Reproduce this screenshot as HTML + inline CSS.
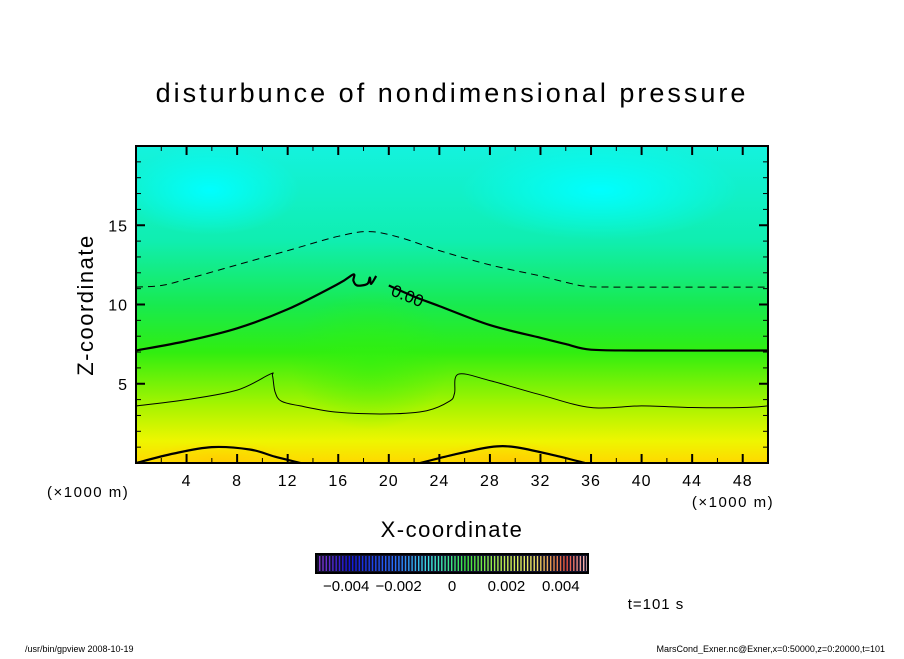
<!DOCTYPE html>
<html><head><meta charset="utf-8"><style>
body{margin:0;background:#fff;width:904px;height:654px;overflow:hidden;font-family:"Liberation Sans",sans-serif}
svg text{font-family:"Liberation Sans",sans-serif}
</style></head><body>
<svg id="s" width="904" height="654" xmlns="http://www.w3.org/2000/svg">
<defs>
<clipPath id="pc"><rect x="136" y="146" width="632" height="317"/></clipPath>
<linearGradient id="vg" x1="0" y1="0" x2="0" y2="1">
<stop offset="0" stop-color="#14f2de"/>
<stop offset="0.3" stop-color="#10eeb0"/>
<stop offset="0.5" stop-color="#18ea50"/>
<stop offset="0.65" stop-color="#30ee10"/>
<stop offset="0.82" stop-color="#a8f400"/>
<stop offset="0.93" stop-color="#eef600"/>
<stop offset="1" stop-color="#ffd800"/>
</linearGradient>
<radialGradient id="cy"><stop offset="0" stop-color="#00ffff"/><stop offset="1" stop-color="#00ffff" stop-opacity="0"/></radialGradient>
<radialGradient id="gr"><stop offset="0" stop-color="#30f010"/><stop offset="1" stop-color="#30f010" stop-opacity="0"/></radialGradient>
<radialGradient id="yl"><stop offset="0" stop-color="#ffcc00"/><stop offset="1" stop-color="#ffd800" stop-opacity="0"/></radialGradient>
</defs>
<text x="452" y="102" text-anchor="middle" font-size="27" letter-spacing="3">disturbunce of nondimensional pressure</text>
<g id="plot" clip-path="url(#pc)">
<rect x="136" y="146" width="632" height="317" fill="url(#vg)"/>
<ellipse cx="210" cy="190" rx="90" ry="45" fill="url(#cy)"/>
<ellipse cx="600" cy="190" rx="140" ry="50" fill="url(#cy)"/>
<ellipse cx="370" cy="360" rx="80" ry="70" fill="url(#gr)" opacity="0.6"/>
<ellipse cx="220" cy="463" rx="80" ry="22" fill="url(#yl)"/>
<ellipse cx="505" cy="463" rx="80" ry="22" fill="url(#yl)"/>
</g>
<g id="contours" clip-path="url(#pc)"></g>
<text x="390" y="295" font-size="17" transform="rotate(22 390 295)">0.00</text>
<rect x="136" y="146" width="632" height="317" fill="none" stroke="#000" stroke-width="2"/>
<g id="ticks"></g>
<text x="47" y="497" font-size="15" letter-spacing="1.5">(×1000 m)</text>
<text x="733" y="507" text-anchor="middle" font-size="15" letter-spacing="1.5">(×1000 m)</text>
<text x="452" y="537" text-anchor="middle" font-size="22" letter-spacing="1.5">X-coordinate</text>
<text x="93" y="305" text-anchor="middle" font-size="22" letter-spacing="1.5" transform="rotate(-90 93 305)">Z-coordinate</text>
<g id="cbar"></g>
<text x="656" y="609" text-anchor="middle" font-size="15" letter-spacing="1">t=101 s</text>
<text x="25" y="652" font-size="9">/usr/bin/gpview   2008-10-19</text>
<text x="885" y="652" text-anchor="end" font-size="9">MarsCond_Exner.nc@Exner,x=0:50000,z=0:20000,t=101</text>
</svg>
<script>
const xTicks=[4,8,12,16,20,24,28,32,36,40,44,48];
const yTicks=[5,10,15];
const dashedX=[0,2,4,8,12,16,18.5,21,24,28,32,34,35.6,38,50];
const dashedZ=[11.1,11.2,11.6,12.5,13.4,14.3,14.6,14.2,13.4,12.5,11.8,11.4,11.15,11.1,11.1];
const zeroLeftX=[0,4,8,12,16,17.2,17.2,17.5,18.3,18.5,18.6,19];
const zeroLeftZ=[7.1,7.7,8.5,9.7,11.3,11.9,11.5,11.2,11.3,11.7,11.3,11.8];
const zeroRightX=[20,22,24,28,32,34,36,40,50];
const zeroRightZ=[11.2,10.5,9.9,8.7,7.9,7.5,7.15,7.1,7.1];
const thinX=[0,4,8,10.6,10.8,11,11.5,13,16,20,23,24.8,25.2,25.5,28,32,36,40,44,48,50];
const thinZ=[3.6,4.0,4.6,5.6,5.5,4.5,3.9,3.6,3.2,3.1,3.3,3.9,4.4,5.6,5.2,4.3,3.5,3.6,3.5,3.5,3.6];
const bump1X=[0,3,6,9,11,13];
const bump1Z=[0,0.6,1.0,0.85,0.4,0];
const bump2X=[22.5,25,28,30,33,35.5];
const bump2Z=[0,0.5,1.0,1.0,0.5,0];
const cbLabels=["-0.004","-0.002","0","0.002","0.004"];
const cbValues=[-0.004,-0.002,0,0.002,0.004];
const NS="http://www.w3.org/2000/svg";
const X0=136,X1=768,Y0=463,Y1=146;
const sx=v=>X0+(v/50)*(X1-X0), sy=v=>Y0-(v/20)*(Y0-Y1);
function mk(t,a,p){const e=document.createElementNS(NS,t);for(const k in a)e.setAttribute(k,a[k]);p.appendChild(e);return e;}
const C=document.getElementById('contours');
function line(xs,zs,w,dash,name){
 const P=xs.map((x,i)=>[sx(x),sy(zs[i])]);
 let d='M'+P[0][0].toFixed(1)+','+P[0][1].toFixed(1);
 for(let i=0;i<P.length-1;i++){const p0=P[Math.max(0,i-1)],p1=P[i],p2=P[i+1],p3=P[Math.min(P.length-1,i+2)];
  const c1=[p1[0]+(p2[0]-p0[0])/6,p1[1]+(p2[1]-p0[1])/6],c2=[p2[0]-(p3[0]-p1[0])/6,p2[1]-(p3[1]-p1[1])/6];
  d+='C'+c1.map(v=>v.toFixed(1))+' '+c2.map(v=>v.toFixed(1))+' '+p2.map(v=>v.toFixed(1));}
 const p=mk('path',{d:d,fill:'none',stroke:'#000','stroke-width':w,'stroke-linejoin':'round'},C);
 if(dash)p.setAttribute('stroke-dasharray',dash);
 
 
}
line(dashedX,dashedZ,1,'7,5','contour-negative');
line(zeroLeftX,zeroLeftZ,2.2,null,'contour-zero-left');
line(zeroRightX,zeroRightZ,2.2,null,'contour-zero-right');
line(thinX,thinZ,1,null,'contour-positive');
line(bump1X,bump1Z,2.2,null,'contour-bump-left');
line(bump2X,bump2Z,2.2,null,'contour-bump-right');
const T=document.getElementById('ticks');
for(let v=2;v<50;v+=2){const maj=v%4==0,L=maj?9:5;
 mk('line',{x1:sx(v),x2:sx(v),y1:Y1,y2:Y1+L,stroke:'#000','stroke-width':maj?2:1},T);
 mk('line',{x1:sx(v),x2:sx(v),y1:Y0,y2:Y0-L,stroke:'#000','stroke-width':maj?2:1},T);}
for(let v=1;v<20;v++){const maj=v%5==0,L=maj?9:5;
 mk('line',{x1:X0,x2:X0+L,y1:sy(v),y2:sy(v),stroke:'#000','stroke-width':maj?2:1},T);
 mk('line',{x1:X1,x2:X1-L,y1:sy(v),y2:sy(v),stroke:'#000','stroke-width':maj?2:1},T);}
xTicks.forEach(v=>{const t=mk('text',{x:sx(v),y:486,'text-anchor':'middle','font-size':16,'letter-spacing':1},T);t.textContent=v;
 
 });
yTicks.forEach(v=>{const t=mk('text',{x:128,y:sy(v)+6,'text-anchor':'end','font-size':16,'letter-spacing':1},T);t.textContent=v;
 
 });
// colorbar
const CB=document.getElementById('cbar');const cx0=316,cx1=588,cy0=554,cy1=573;
mk('rect',{x:cx0,y:cy0,width:cx1-cx0,height:cy1-cy0,fill:'#101028'},CB);
const stops=[[0,[140,60,200]],[0.12,[20,20,220]],[0.3,[40,120,255]],[0.42,[60,230,220]],[0.55,[60,230,60]],[0.7,[200,240,80]],[0.8,[240,230,100]],[0.92,[230,80,60]],[1,[250,200,200]]];
function col(t){for(let i=1;i<stops.length;i++)if(t<=stops[i][0]){const a=stops[i-1],b=stops[i],f=(t-a[0])/(b[0]-a[0]);return 'rgb('+a[1].map((c,j)=>Math.round(c+(b[1][j]-c)*f)).join(',')+')';}}
for(let x=cx0+3;x<cx1-1;x+=3.3){mk('rect',{x:x,y:cy0+2,width:1.4,height:cy1-cy0-4,fill:col((x-cx0)/(cx1-cx0))},CB);}
mk('rect',{x:cx0,y:cy0,width:cx1-cx0,height:cy1-cy0,fill:'none',stroke:'#000','stroke-width':2},CB);
const cbx=v=>cx0+(v+0.005)/0.01*(cx1-cx0);
const cbOff=[0,2,1,0,1,0];
cbValues.forEach((v,i)=>{const t=mk('text',{x:cbx(v)+(i==0?3:i==1?1:0),y:591,'text-anchor':'middle','font-size':15},CB);t.textContent=cbLabels[i].replace('-','\u2212');
 
 });
</script>
</body></html>
